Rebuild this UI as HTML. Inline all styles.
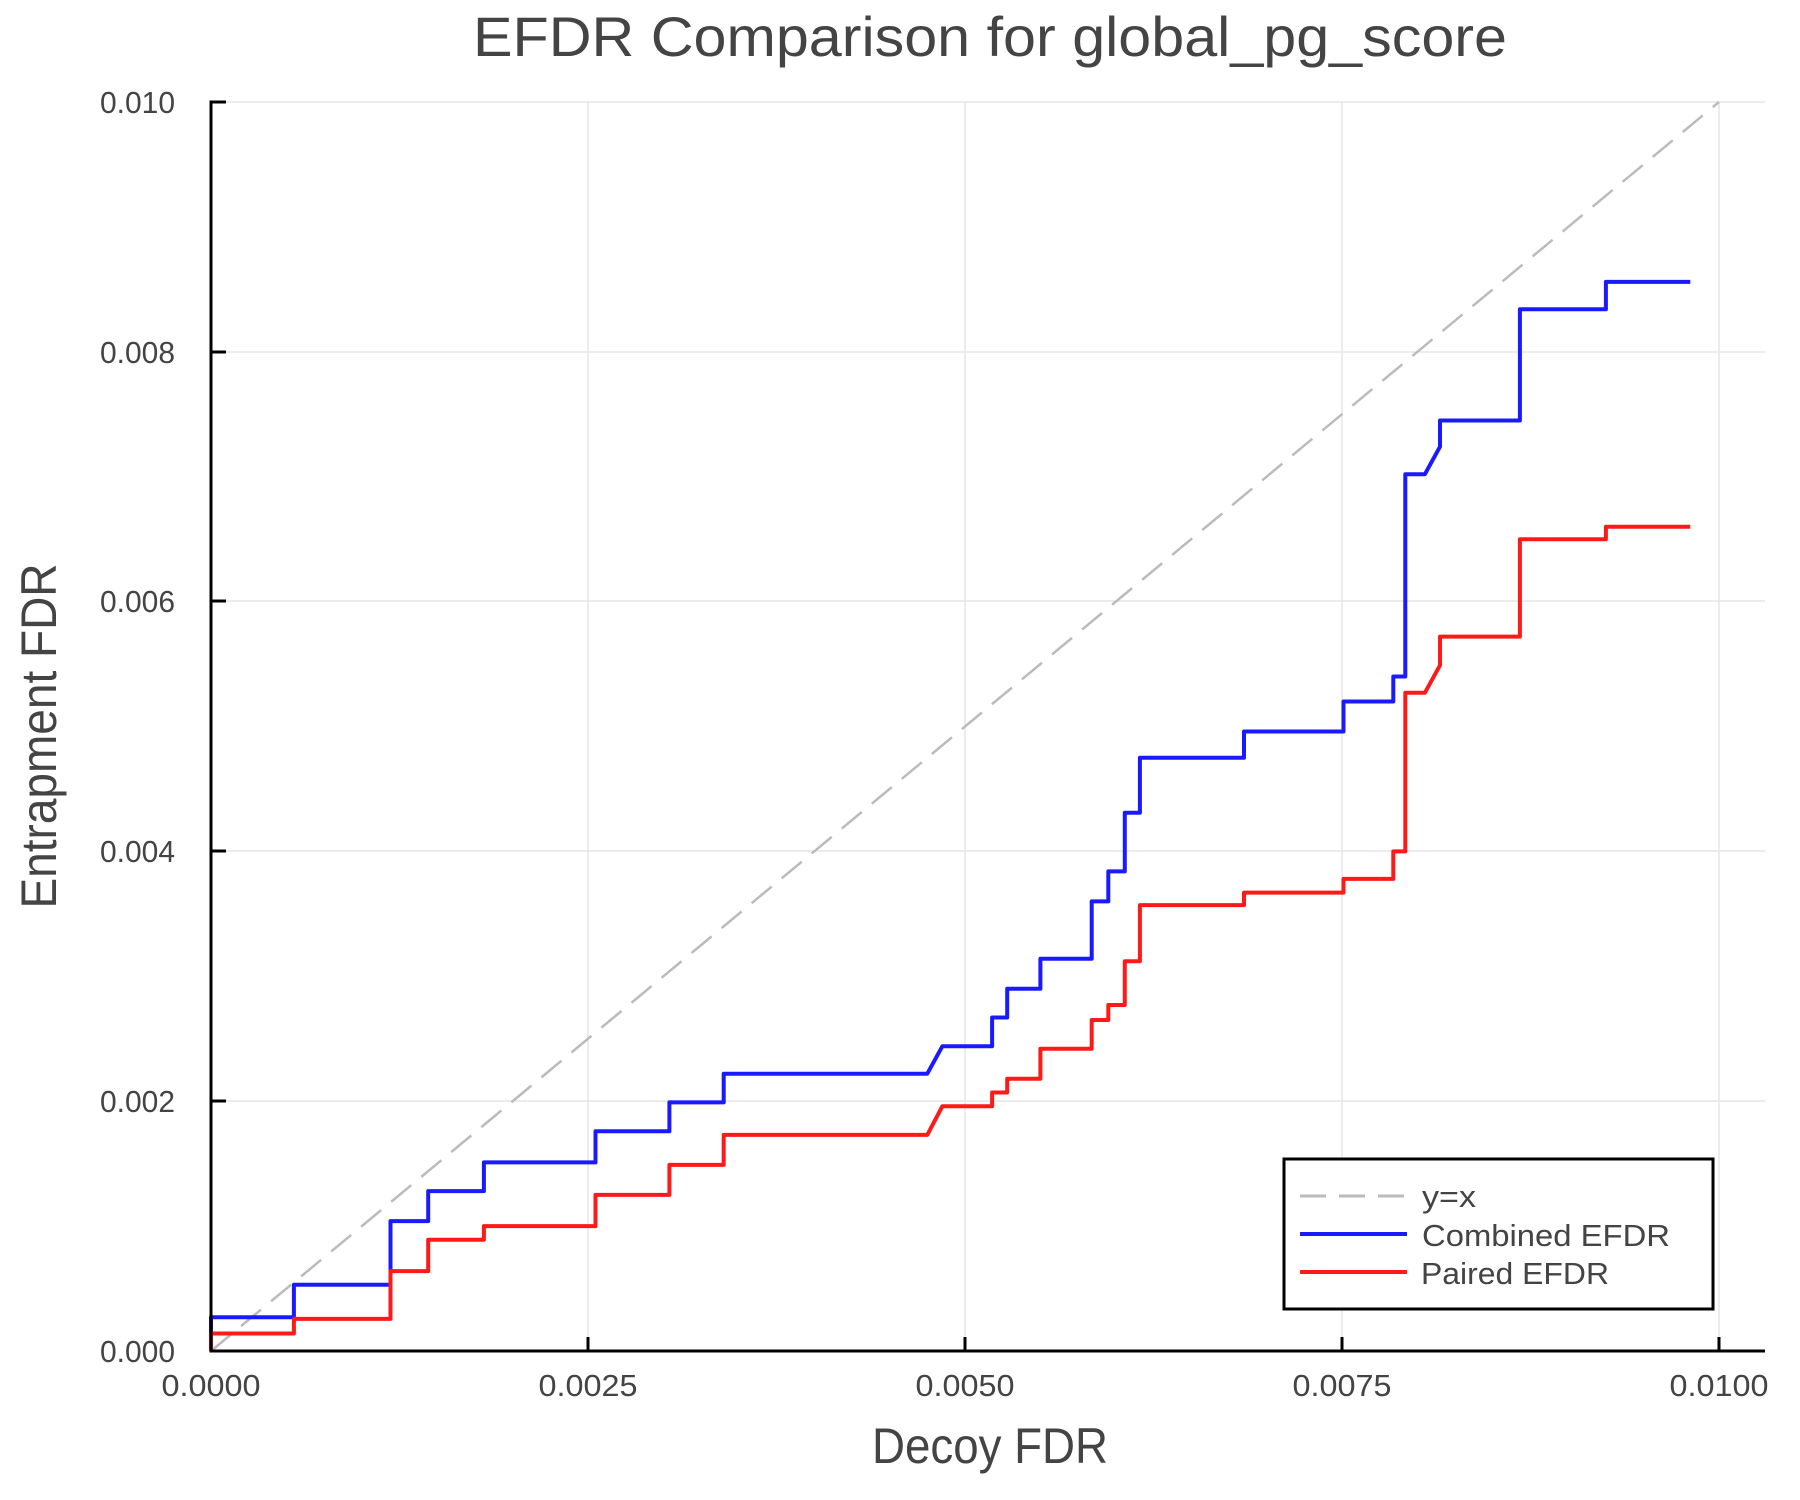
<!DOCTYPE html>
<html><head><meta charset="utf-8"><style>html,body{margin:0;padding:0;background:#fff}svg{display:block}</style></head>
<body>
<svg width="1800" height="1500" viewBox="0 0 1800 1500" xmlns="http://www.w3.org/2000/svg" font-family="Liberation Sans, sans-serif" fill="#444">
<g stroke="#e6e6e6" stroke-width="1.5">
<line x1="588" y1="102" x2="588" y2="1351"/>
<line x1="965" y1="102" x2="965" y2="1351"/>
<line x1="1342" y1="102" x2="1342" y2="1351"/>
<line x1="1719" y1="102" x2="1719" y2="1351"/>
<line x1="211" y1="102" x2="1765" y2="102"/>
<line x1="211" y1="352" x2="1765" y2="352"/>
<line x1="211" y1="601" x2="1765" y2="601"/>
<line x1="211" y1="851" x2="1765" y2="851"/>
<line x1="211" y1="1101" x2="1765" y2="1101"/>
</g>
<g fill="none" stroke-linejoin="round">
<path d="M211 1351 L1719 102" stroke="#bbb" stroke-width="2.5" stroke-dasharray="26,13"/>
<path stroke="#1a1aff" stroke-width="4" d="M211 1351 L211 1317.3 L293.9 1317.3 L293.9 1284.8 L390.5 1284.8 L390.5 1221.1 L428.2 1221.1 L428.2 1191.1 L483.9 1191.1 L483.9 1162.4 L595.5 1162.4 L595.5 1131.2 L669.4 1131.2 L669.4 1102.4 L723.7 1102.4 L723.7 1073.7 L927.3 1073.7 L942.4 1046.2 L992.1 1046.2 L992.1 1017.5 L1007.2 1017.5 L1007.2 988.8 L1040.4 988.8 L1040.4 958.8 L1091.7 958.8 L1091.7 901.4 L1108.3 901.4 L1108.3 871.4 L1124.8 871.4 L1124.8 812.7 L1139.9 812.7 L1139.9 757.7 L1244 757.7 L1244 731.5 L1343.5 731.5 L1343.5 701.5 L1393.3 701.5 L1393.3 676.5 L1405.3 676.5 L1405.3 474.2 L1424.9 474.2 L1440 446.7 L1440 420.5 L1519.9 420.5 L1519.9 309.3 L1605.9 309.3 L1605.9 281.9 L1690.3 281.9"/>
<path stroke="#ff1a1a" stroke-width="4" d="M211 1351 L211 1333.5 L293.9 1333.5 L293.9 1318.9 L390.5 1318.9 L390.5 1271.1 L428.2 1271.1 L428.2 1239.8 L483.9 1239.8 L483.9 1226.1 L595.5 1226.1 L595.5 1194.9 L669.4 1194.9 L669.4 1164.9 L723.7 1164.9 L723.7 1134.9 L927.3 1134.9 L942.4 1106.2 L992.1 1106.2 L992.1 1092.5 L1007.2 1092.5 L1007.2 1078.7 L1040.4 1078.7 L1040.4 1048.7 L1091.7 1048.7 L1091.7 1020 L1108.3 1020 L1108.3 1005 L1124.8 1005 L1124.8 961.3 L1139.9 961.3 L1139.9 905.1 L1244 905.1 L1244 892.6 L1343.5 892.6 L1343.5 878.9 L1393.3 878.9 L1393.3 851.4 L1405.3 851.4 L1405.3 692.8 L1424.9 692.8 L1440 665.3 L1440 636.6 L1519.9 636.6 L1519.9 539.2 L1605.9 539.2 L1605.9 526.7 L1690.3 526.7"/>
</g>
<g stroke="#000" stroke-width="3" fill="none">
<line x1="211" y1="100.5" x2="211" y2="1352.5"/>
<line x1="209.5" y1="1351" x2="1765" y2="1351"/>
<line x1="211" y1="102" x2="226" y2="102"/>
<line x1="211" y1="352" x2="226" y2="352"/>
<line x1="211" y1="601" x2="226" y2="601"/>
<line x1="211" y1="851" x2="226" y2="851"/>
<line x1="211" y1="1101" x2="226" y2="1101"/>
<line x1="588" y1="1351" x2="588" y2="1337"/>
<line x1="965" y1="1351" x2="965" y2="1337"/>
<line x1="1342" y1="1351" x2="1342" y2="1337"/>
<line x1="1719" y1="1351" x2="1719" y2="1337"/>
</g>
<g font-size="31" text-anchor="end">
<text x="175" y="113" textLength="75" lengthAdjust="spacingAndGlyphs">0.010</text>
<text x="175" y="363" textLength="75" lengthAdjust="spacingAndGlyphs">0.008</text>
<text x="175" y="612" textLength="75" lengthAdjust="spacingAndGlyphs">0.006</text>
<text x="175" y="862" textLength="75" lengthAdjust="spacingAndGlyphs">0.004</text>
<text x="175" y="1112" textLength="75" lengthAdjust="spacingAndGlyphs">0.002</text>
<text x="175" y="1362" textLength="75" lengthAdjust="spacingAndGlyphs">0.000</text>
</g>
<g font-size="31" text-anchor="middle">
<text x="211" y="1396" textLength="99" lengthAdjust="spacingAndGlyphs">0.0000</text>
<text x="588" y="1396" textLength="99" lengthAdjust="spacingAndGlyphs">0.0025</text>
<text x="965" y="1396" textLength="99" lengthAdjust="spacingAndGlyphs">0.0050</text>
<text x="1342" y="1396" textLength="99" lengthAdjust="spacingAndGlyphs">0.0075</text>
<text x="1719" y="1396" textLength="99" lengthAdjust="spacingAndGlyphs">0.0100</text>
</g>
<text x="990" y="56" font-size="56" text-anchor="middle" textLength="1034" lengthAdjust="spacingAndGlyphs">EFDR Comparison for global_pg_score</text>
<text x="990" y="1463" font-size="50" text-anchor="middle" textLength="236" lengthAdjust="spacingAndGlyphs">Decoy FDR</text>
<text transform="translate(56,736) rotate(-90)" font-size="50" text-anchor="middle" textLength="345" lengthAdjust="spacingAndGlyphs">Entrapment FDR</text>
<rect x="1284" y="1159" width="429" height="150" fill="#fff" stroke="#000" stroke-width="3"/>
<line x1="1300" y1="1196" x2="1407" y2="1196" stroke="#bbb" stroke-width="3" stroke-dasharray="26,13"/>
<line x1="1300" y1="1234" x2="1407" y2="1234" stroke="#1a1aff" stroke-width="4"/>
<line x1="1300" y1="1272" x2="1407" y2="1272" stroke="#ff1a1a" stroke-width="4"/>
<g font-size="31">
<text x="1422" y="1207" textLength="54" lengthAdjust="spacingAndGlyphs">y=x</text>
<text x="1422" y="1246" textLength="248" lengthAdjust="spacingAndGlyphs">Combined EFDR</text>
<text x="1421" y="1284" textLength="188" lengthAdjust="spacingAndGlyphs">Paired EFDR</text>
</g>
</svg>
</body></html>
